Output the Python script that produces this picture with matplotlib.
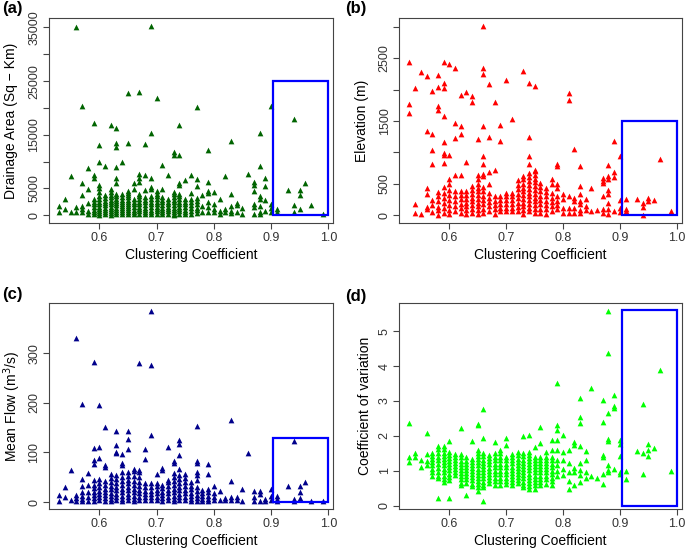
import matplotlib
matplotlib.use("Agg")
import matplotlib.pyplot as plt
from matplotlib.patches import Rectangle

plt.rcParams['font.family'] = ['Liberation Sans', 'DejaVu Sans']

# Clustering-coefficient columns (x values)
cc_levels = [0.53, 0.54, 0.55, 0.56, 0.57, 0.58, 0.59, 0.60, 0.61, 0.62,
             0.63, 0.64, 0.65, 0.66, 0.67, 0.68, 0.69, 0.70, 0.71, 0.72,
             0.73, 0.74, 0.75, 0.76, 0.77, 0.78, 0.79, 0.80, 0.81, 0.82,
             0.83, 0.84, 0.85, 0.86, 0.87, 0.88, 0.89, 0.90, 0.91, 0.93,
             0.94, 0.95, 0.96, 0.97, 0.99]

# (a) Drainage area (sq-km), one list per cc level
drainage_area = [
    [1700, 500],
    [3100, 1200],
    [7300, 500],
    [35100, 1600, 600],
    [20400, 6000, 3700, 1700, 1100, 500],
    [8800, 4900, 2300, 800, 200],
    [17100, 7400, 7000, 3000, 2500, 2000, 1500, 1000, 600, 200],
    [13000, 9900, 5700, 5100, 4300, 3500, 3000, 2500, 2000, 1600, 1200, 800, 400, 100],
    [9200, 3700, 3200, 2700, 2200, 1800, 1400, 1000, 600, 200],
    [16800, 4900, 4300, 3800, 3300, 2800, 2400, 2000, 1600, 1200, 800, 400, 100],
    [16200, 13400, 12800, 8900, 7000, 5900, 4000, 3500, 3000, 2600, 2200, 1800, 1400, 1000, 600, 200],
    [9900, 3900, 3400, 2900, 2500, 2100, 1700, 1300, 900, 500, 150],
    [22800, 13400, 4500, 4100, 3700, 3300, 2900, 2500, 2100, 1700, 1300, 900, 500, 150],
    [6000, 4800, 3000, 2500, 2000, 1500, 1000, 600, 200],
    [23000, 7600, 7000, 6200, 4000, 3500, 3000, 2500, 2000, 1500, 1100, 700, 300],
    [13300, 7400, 4700, 3400, 2900, 2400, 1900, 1400, 1000, 600, 200],
    [35300, 15400, 7000, 5200, 4800, 3500, 3000, 2500, 2000, 1500, 1000, 600, 200],
    [21900, 4500, 4000, 3500, 3000, 2500, 2000, 1500, 1100, 700, 300],
    [9300, 4800, 3400, 2900, 2400, 1900, 1400, 1000, 600, 200],
    [7400, 3000, 2500, 2000, 1500, 1100, 700, 300],
    [11700, 11300, 4300, 3900, 3400, 2900, 2400, 1900, 1400, 1000, 600, 200, 0],
    [16800, 11200, 6000, 5700, 4000, 3500, 3000, 2500, 2000, 1500, 1100, 700, 300],
    [6500, 3000, 2500, 2000, 1500, 1000, 600, 200],
    [7400, 4200, 3000, 2400, 1800, 1300, 800, 300],
    [20200, 6800, 5400, 3200, 2600, 2000, 1400, 900, 400],
    [3700, 1700, 500],
    [12100, 6200, 4500, 4200, 2500, 1500, 500],
    [4300, 2000, 1100, 500],
    [3000, 800, 200],
    [7300, 1200, 500],
    [13900, 3900, 1700, 800, 400],
    [2200, 1800, 500],
    [1400, 200],
    [7600],
    [6200, 5700, 4500, 2000, 1600, 200],
    [15300, 9200, 3500, 3100, 1700, 600, 300],
    [7000, 5500, 2800, 800],
    [20400, 2000, 1400, 500],
    [1200, 500],
    [4700],
    [17900, 1800, 500],
    [4600, 3700, 1100],
    [5900],
    [1800],
    [300],
]

# (b) Elevation (m)
elevation = [
    [2447, 1768, 1621],
    [2026, 174, 26],
    [2279, 16],
    [2221, 1342, 437, 342, 137, 105],
    [1984, 1295, 1032, 810, 240, 158, 42],
    [2226, 2037, 1737, 1668, 368, 300, 220, 130, 80, 0],
    [2447, 2110, 2032, 1574, 1163, 989, 958, 826, 447, 360, 280, 200, 120, 40],
    [2410, 963, 568, 490, 400, 320, 240, 160, 80, 20],
    [2342, 1463, 1226, 647, 380, 300, 220, 140, 60],
    [1921, 1426, 1295, 647, 390, 320, 250, 180, 110, 40],
    [1963, 842, 380, 320, 260, 200, 140, 80, 20],
    [1905, 1810, 463, 400, 340, 280, 220, 160, 100, 40],
    [1210, 647, 568, 500, 440, 380, 320, 260, 200, 140, 80, 20],
    [3016, 2342, 2252, 1426, 947, 810, 663, 631, 450, 380, 310, 240, 170, 100, 30],
    [2084, 1242, 684, 490, 350, 280, 210, 140, 70],
    [1810, 726, 300, 230, 160, 90, 20],
    [1437, 1189, 300, 240, 180, 120, 60],
    [2147, 358, 300, 240, 180, 120, 60],
    [1531, 358, 300, 240, 180, 120, 60],
    [560, 480, 410, 340, 270, 200, 130, 60],
    [2295, 631, 568, 500, 440, 380, 320, 260, 200, 140, 80, 20],
    [2105, 1242, 937, 810, 674, 600, 540, 480, 420, 360, 300, 240, 180, 120, 60],
    [2058, 726, 700, 640, 580, 520, 460, 400, 340, 280, 220, 160, 100, 40],
    [516, 450, 380, 310, 240, 170, 100, 30],
    [437, 370, 300, 230, 160, 90, 20],
    [568, 490, 350, 280, 210, 140, 70],
    [821, 779, 490, 437, 300, 230, 160, 90],
    [331, 250, 120, 40],
    [1947, 1842, 305, 120, 40],
    [1053, 279, 226, 110, 40],
    [789, 463, 331, 226, 174, 84, 40],
    [263, 147, 84],
    [437, 68],
    [79],
    [595, 542, 505, 300, 105, 40],
    [805, 621, 568, 395, 331, 200, 95, 16],
    [1174, 689, 605, 68],
    [937, 237, 121, 42],
    [253, 105, 58],
    [253],
    [189, 137, 0],
    [268, 226],
    [237],
    [895],
    [58],
]

# (c) Mean flow (m3/s)
mean_flow = [
    [15, 2],
    [30, 10],
    [65, 5],
    [330, 15, 8, 3],
    [197, 47, 32, 20, 13, 7, 3],
    [59, 34, 20, 10, 3],
    [282, 109, 85, 76, 44, 35, 28, 21, 14, 8, 3],
    [196, 111, 89, 47, 38, 30, 23, 16, 10, 4],
    [152, 74, 70, 42, 34, 27, 20, 14, 8, 3],
    [57, 48, 40, 33, 26, 19, 13, 7, 2],
    [143, 114, 101, 99, 55, 46, 38, 31, 24, 17, 11, 5],
    [96, 79, 75, 60, 50, 42, 34, 27, 20, 13, 7, 2],
    [144, 128, 107, 60, 52, 45, 38, 31, 24, 17, 11, 5],
    [67, 62, 52, 42, 34, 27, 20, 13, 7, 2],
    [280, 65, 60, 50, 40, 32, 25, 18, 11, 5],
    [106, 87, 38, 30, 23, 16, 10, 4],
    [385, 277, 136, 38, 30, 23, 16, 10, 4],
    [57, 38, 32, 25, 18, 11, 5],
    [69, 65, 35, 28, 21, 14, 8, 3],
    [111, 45, 40, 32, 25, 18, 11, 5],
    [82, 78, 58, 50, 42, 34, 27, 20, 13, 7, 2],
    [126, 117, 94, 67, 55, 46, 38, 31, 24, 17, 11, 5],
    [56, 48, 40, 32, 25, 18, 11, 5],
    [40, 33, 26, 19, 13, 7, 2],
    [153, 82, 78, 60, 55, 45, 30, 22, 15, 9, 3],
    [25, 18, 12, 6, 2],
    [77, 56, 27, 20, 13, 7, 2],
    [32, 18, 10, 4],
    [22, 5],
    [9, 4],
    [166, 42, 10, 4],
    [10, 5],
    [27, 2],
    [99],
    [23, 11, 3],
    [22, 16, 3],
    [7, 3],
    [27, 13, 5],
    [13, 7, 3],
    [32],
    [123, 6, 3],
    [32, 20, 8],
    [40],
    [3],
    [3],
]

# (d) Coefficient of variation
coef_variation = [
    [2.38, 1.40, 1.25],
    [1.51, 1.38],
    [1.32, 1.11],
    [2.07, 1.49, 1.28, 1.16],
    [1.50, 1.42, 1.33, 1.24, 1.15, 1.05, 0.95, 0.85],
    [1.71, 1.62, 1.50, 1.40, 1.30, 1.18, 1.08, 0.95, 0.85, 0.78, 0.23],
    [1.71, 1.62, 1.52, 1.43, 1.33, 1.24, 1.15, 1.05, 0.96, 0.86, 0.76, 0.68],
    [1.84, 1.55, 1.46, 1.37, 1.28, 1.19, 1.10, 1.01, 0.92, 0.83, 0.74, 0.23],
    [1.48, 1.40, 1.31, 1.22, 1.13, 1.04, 0.95, 0.88],
    [2.21, 1.47, 1.38, 1.29, 1.20, 1.11, 1.02, 0.93, 0.84, 0.75, 0.66, 0.58],
    [1.38, 1.29, 1.20, 1.11, 1.02, 0.93, 0.84, 0.75, 0.66, 0.30],
    [1.84, 1.35, 1.26, 1.17, 1.08, 0.99, 0.90, 0.81, 0.72, 0.63, 0.55],
    [2.35, 2.30, 1.60, 1.51, 1.42, 1.33, 1.24, 1.15, 1.06, 0.97, 0.88, 0.79, 0.70, 0.61, 0.52, 0.43],
    [2.78, 1.94, 1.50, 1.41, 1.32, 1.23, 1.14, 1.05, 0.96, 0.87, 0.78, 0.69, 0.60, 0.52, 0.13],
    [1.45, 1.36, 1.27, 1.18, 1.09, 1.00, 0.91, 0.82, 0.73, 0.65],
    [1.81, 1.50, 1.40, 1.30, 1.20, 1.10, 1.00, 0.90, 0.80, 0.70, 0.60],
    [1.60, 1.50, 1.40, 1.30, 1.20, 1.10, 1.00, 0.90, 0.80, 0.70, 0.60],
    [1.94, 1.73, 1.40, 1.30, 1.20, 1.10, 1.00, 0.90, 0.80, 0.70, 0.62],
    [1.48, 1.39, 1.30, 1.21, 1.12, 1.03, 0.94, 0.85, 0.76, 0.67, 0.58],
    [1.53, 1.44, 1.35, 1.26, 1.17, 1.08, 0.99, 0.90, 0.81, 0.72, 0.64],
    [1.99, 1.50, 1.41, 1.32, 1.23, 1.14, 1.05, 0.96, 0.87, 0.78, 0.69, 0.60, 0.54],
    [2.02, 1.55, 1.46, 1.37, 1.28, 1.19, 1.10, 1.01, 0.92, 0.83, 0.74, 0.65, 0.56, 0.49],
    [1.68, 1.40, 1.31, 1.22, 1.13, 1.04, 0.95, 0.86, 0.77, 0.68, 0.59, 0.49],
    [2.26, 1.80, 1.40, 1.31, 1.22, 1.13, 1.04, 0.95, 0.86, 0.77, 0.68, 0.58],
    [1.54, 1.40, 1.31, 1.22, 1.13, 1.04, 0.95, 0.86, 0.77, 0.63],
    [1.89, 1.59, 1.40, 1.30, 1.20, 1.10, 1.00, 0.90, 0.80, 0.70, 0.60],
    [3.52, 2.30, 2.18, 1.89, 1.59, 1.30, 1.15, 0.98, 0.85],
    [2.02, 1.54, 1.30, 1.06, 0.87],
    [1.59, 1.23, 0.96, 0.71, 0.49],
    [1.83, 1.73, 1.08, 0.97, 0.58],
    [3.07, 2.54, 2.38, 1.70, 1.21, 1.01, 0.87, 0.68],
    [1.56, 1.30, 0.97, 0.78],
    [3.36, 0.84],
    [0.79],
    [3.02, 2.40, 1.44, 1.39, 0.90, 0.63],
    [5.58, 4.38, 2.64, 1.92, 1.86, 1.16, 1.01, 0.96],
    [3.16, 2.85, 2.81, 1.06],
    [1.89, 1.78, 1.41, 0.97, 0.92],
    [0.98, 0.77],
    [1.56],
    [2.90, 1.51, 0.92],
    [1.76, 1.59, 1.43],
    [1.66],
    [3.88],
    [0.99],
]

x_ticks = [0.6, 0.7, 0.8, 0.9, 1.0]
x_tick_labels = ["0.6", "0.7", "0.8", "0.9", "1.0"]

panels = [
    dict(tag="(a)", ys=drainage_area, color="#006400",
         ylabel="Drainage Area (Sq \u2212 Km)",
         yticks=[0, 5000, 10000, 15000, 20000, 25000, 30000, 35000],
         yticklabels=["0", "5000", "", "15000", "", "25000", "", "35000"],
         box_top=25000,
         pos=[0.0711, 0.5951, 0.4152, 0.3716], ylab_x=-0.133,
         tag_xy=(0.003, 1 - 8 / 550)),
    dict(tag="(b)", ys=elevation, color="#FF0000",
         ylabel="Elevation (m)",
         yticks=[0, 500, 1000, 1500, 2000, 2500, 3000],
         yticklabels=["0", "500", "", "1500", "", "2500", ""],
         box_top=1500,
         pos=[0.5825, 0.5951, 0.4124, 0.3716], ylab_x=-0.131,
         tag_xy=(345 / 685, 1 - 8 / 550)),
    dict(tag="(c)", ys=mean_flow, color="#00008B",
         ylabel="Mean Flow (m$^3$/s)",
         yticks=[0, 100, 200, 300],
         yticklabels=["0", "100", "200", "300"],
         box_top=130,
         pos=[0.0711, 0.0751, 0.4152, 0.3735], ylab_x=-0.13,
         tag_xy=(0.003, 1 - 295 / 550)),
    dict(tag="(d)", ys=coef_variation, color="#00FF00",
         ylabel="Coefficient of variation",
         yticks=[0, 1, 2, 3, 4, 5],
         yticklabels=["0", "1", "2", "3", "4", "5"],
         box_top=5.6,
         pos=[0.5825, 0.0751, 0.4124, 0.3735], ylab_x=-0.12,
         tag_xy=(345 / 685, 1 - 296 / 550)),
]

fig = plt.figure(figsize=(6.85, 5.5), dpi=100)
axis_col = "#444444"

for p in panels:
    ax = fig.add_axes(p["pos"])
    xs, ys = [], []
    for cc, col in zip(cc_levels, p["ys"]):
        for v in col:
            xs.append(cc)
            ys.append(v)
    ax.scatter(xs, ys, marker="^", s=17, color=p["color"], linewidths=0, zorder=2)

    xmin, xmax = min(xs), max(xs)
    ymin, ymax = min(ys), max(ys)
    rx, ry = xmax - xmin, ymax - ymin
    ax.set_xlim(xmin - 0.04 * rx, xmax + 0.04 * rx)
    ax.set_ylim(ymin - 0.04 * ry, ymax + 0.04 * ry)

    ax.add_patch(Rectangle((0.904, 0), 1.0 - 0.904, p["box_top"], fill=False,
                           edgecolor="#0000FF", linewidth=1.6, zorder=3))

    ax.set_xticks(x_ticks)
    ax.set_xticklabels(x_tick_labels)
    ax.set_yticks(p["yticks"])
    ax.set_yticklabels(p["yticklabels"], rotation=90, va="center")
    ax.tick_params(axis="both", direction="out", length=4, width=0.8,
                   color=axis_col, labelcolor="#333333", labelsize=9)
    ax.tick_params(axis="x", pad=3)
    ax.tick_params(axis="y", pad=2)
    for sp in ax.spines.values():
        sp.set_color(axis_col)
        sp.set_linewidth(0.8)

    ax.set_xlabel("Clustering Coefficient", fontsize=10, va="center")
    ax.xaxis.set_label_coords(0.5, -0.157)
    ax.set_ylabel(p["ylabel"], fontsize=10, va="center")
    ax.yaxis.set_label_coords(p["ylab_x"], 0.5)

    fig.text(p["tag_xy"][0], p["tag_xy"][1], p["tag"], fontsize=12,
             fontweight="bold", va="center", ha="left")

fig.savefig("out.png", dpi=100)
